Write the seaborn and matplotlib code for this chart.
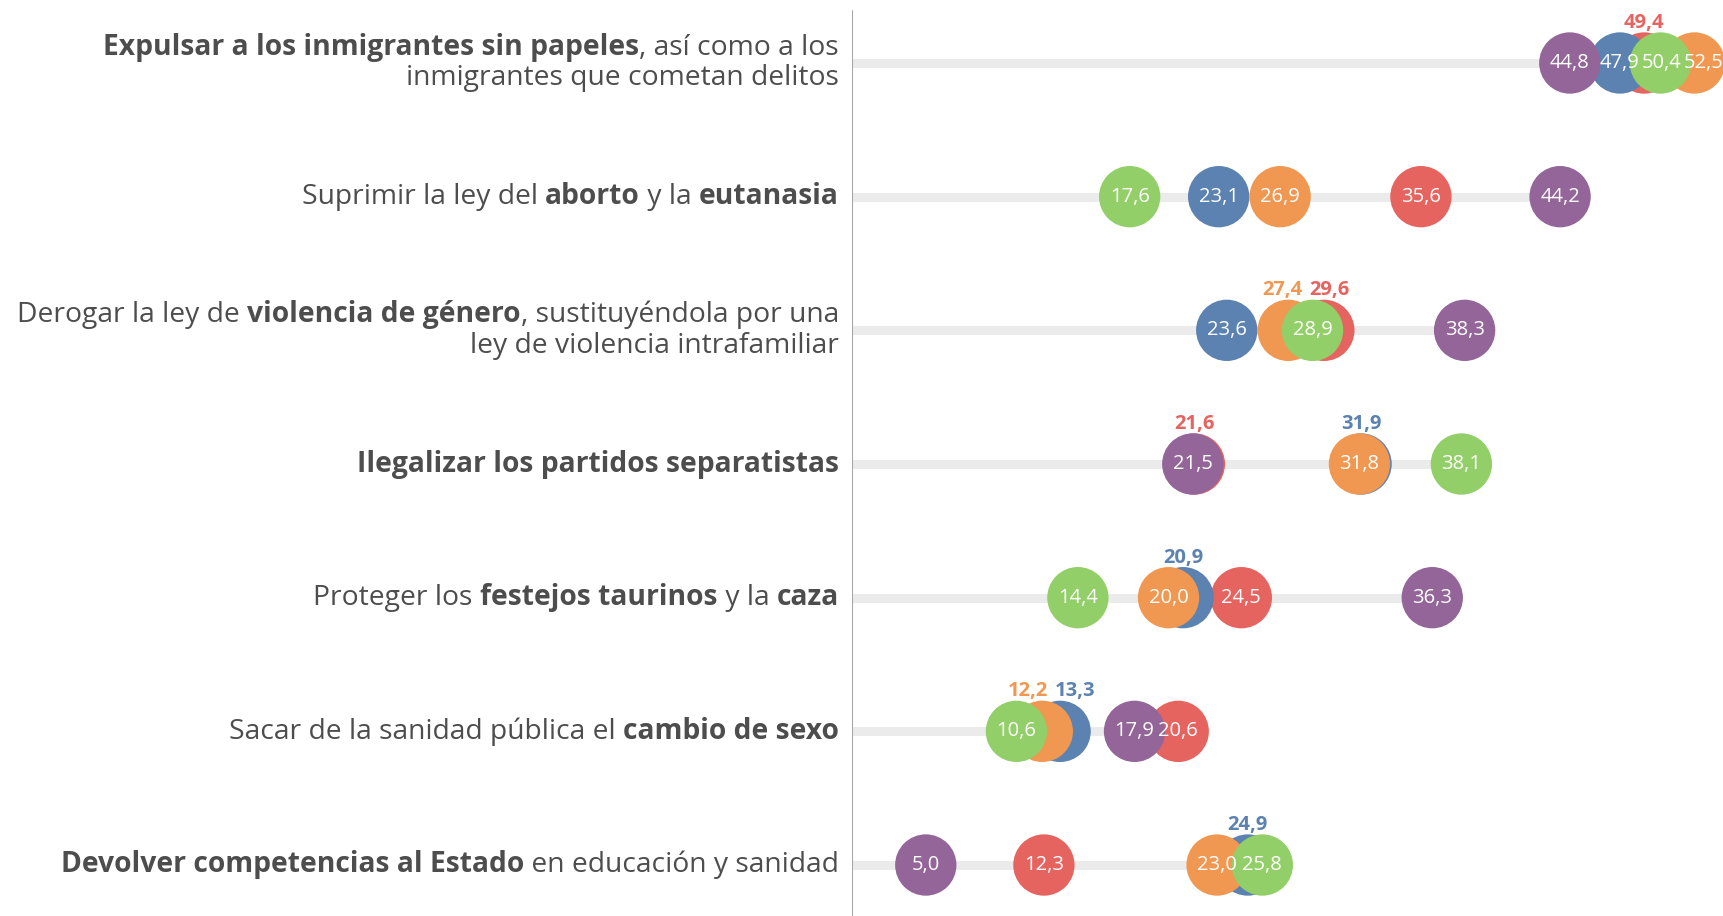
import numpy as np
import pandas as pd
import matplotlib
matplotlib.use("Agg")
import matplotlib.pyplot as plt
import seaborn as sns

# rows (top to bottom), each line is a list of (text, bold) segments
categorias = [
    [[("Expulsar a los inmigrantes sin papeles", True), (", así como a los", False)],
     [("inmigrantes que cometan delitos", False)]],
    [[("Suprimir la ley del ", False), ("aborto", True), (" y la ", False), ("eutanasia", True)]],
    [[("Derogar la ley de ", False), ("violencia de género", True), (", sustituyéndola por una", False)],
     [("ley de violencia intrafamiliar", False)]],
    [[("Ilegalizar los partidos separatistas", True)]],
    [[("Proteger los ", False), ("festejos taurinos", True), (" y la ", False), ("caza", True)]],
    [[("Sacar de la sanidad pública el ", False), ("cambio de sexo", True)]],
    [[("Devolver competencias al Estado", True), (" en educación y sanidad", False)]],
]

morado = [44.8, 44.2, 38.3, 21.5, 36.3, 17.9, 5.0]
azul = [47.9, 23.1, 23.6, 31.9, 20.9, 13.3, 24.9]
rojo = [49.4, 35.6, 29.6, 21.6, 24.5, 20.6, 12.3]
verde = [50.4, 17.6, 28.9, 38.1, 14.4, 10.6, 25.8]
naranja = [52.5, 26.9, 27.4, 31.8, 20.0, 12.2, 23.0]

colores = {"rojo": "#e5645f", "azul": "#5b82b0", "naranja": "#f09852",
           "morado": "#936598", "verde": "#93cf69"}
# drawing order, bottom to top
orden = ["rojo", "azul", "naranja", "morado", "verde"]
series = {"morado": morado, "azul": azul, "rojo": rojo, "verde": verde, "naranja": naranja}

rows = []
for nombre in orden:
    for i, v in enumerate(series[nombre]):
        rows.append({"serie": nombre, "fila": i, "valor": v})
df = pd.DataFrame(rows)

sns.set_style("white")
plt.rcParams["font.family"] = ["Open Sans", "DejaVu Sans"]

W, H = 1724, 916
fig = plt.figure(figsize=(W / 100, H / 100), dpi=100)
left_px = 852
ax = fig.add_axes([left_px / W, 0, 1 - left_px / W, 1])

row_top, row_step = 63, 133.67
ax.set_ylim((H - row_top) / row_step, -row_top / row_step)
ax.set_xlim(0.44, 54.33)

# tracks
for i in range(len(categorias)):
    vmax = max(series[n][i] for n in orden)
    ax.plot([0.44, vmax], [i, i], color="#ebebeb", lw=6.5, solid_capstyle="butt", zorder=1)

sns.scatterplot(data=df, x="valor", y="fila", hue="serie", palette=colores,
                s=1950, linewidth=0, legend=False, ax=ax, zorder=3, clip_on=False)

def fmt(v):
    return f"{v:.1f}".replace(".", ",")

# value labels; hidden ones go above in bold colour
arriba = {}
dentro = {}
for k, nombre in enumerate(orden):
    for i, v in enumerate(series[nombre]):
        tapado = any(abs(series[o][i] - v) < 1.8 for o in orden[k + 1:])
        if tapado:
            arriba.setdefault(i, []).append((v, nombre))
        else:
            dentro.setdefault(i, []).append(v)

gap_min = 2.6
for i, lst in dentro.items():
    lst.sort()
    xs = list(lst)
    for m in range(1, len(xs)):
        if xs[m] - xs[m - 1] < gap_min:
            xs[m] = xs[m - 1] + gap_min
    for x, v in zip(xs, lst):
        ax.text(x, i, fmt(v), ha="center", va="center", fontsize=14.5,
                color="white", zorder=5, clip_on=False)

sep = 2.9
for i, lst in arriba.items():
    lst.sort()
    xs = [v for v, _ in lst]
    if len(xs) == 2 and xs[1] - xs[0] < sep:
        mid = (xs[0] + xs[1]) / 2
        xs = [mid - sep / 2, mid + sep / 2]
    for x, (v, nombre) in zip(xs, lst):
        ax.annotate(fmt(v), (x, i), xytext=(0, 40), textcoords="offset pixels",
                    ha="center", va="center", fontsize=14.5, fontweight="bold",
                    color=colores[nombre], zorder=6, annotation_clip=False)

# left axis line
ax.axvline(0.44, ymin=0, ymax=(H - 11) / H, color="#a6a6a6", lw=1.5, zorder=2)

# category labels with mixed weights
trans = ax.get_yaxis_transform()
x_lab = -13 / (W - left_px)
for i, lineas in enumerate(categorias):
    n = len(lineas)
    for j, segs in enumerate(lineas):
        dy = (j - (n - 1) / 2) * 30.5 / row_step
        prev = None
        for texto, bold in reversed(segs):
            w = "bold" if bold else "normal"
            if prev is None:
                prev = ax.text(x_lab, i + dy, texto, transform=trans, ha="right", va="center",
                               fontsize=20.3, fontweight=w, color="#4d4d4d")
            else:
                prev = ax.annotate(texto, xy=(0, 0), xycoords=prev, ha="right", va="bottom",
                                   fontsize=20.3, fontweight=w, color="#4d4d4d")

ax.axis("off")
fig.savefig("out.png", dpi=100)
